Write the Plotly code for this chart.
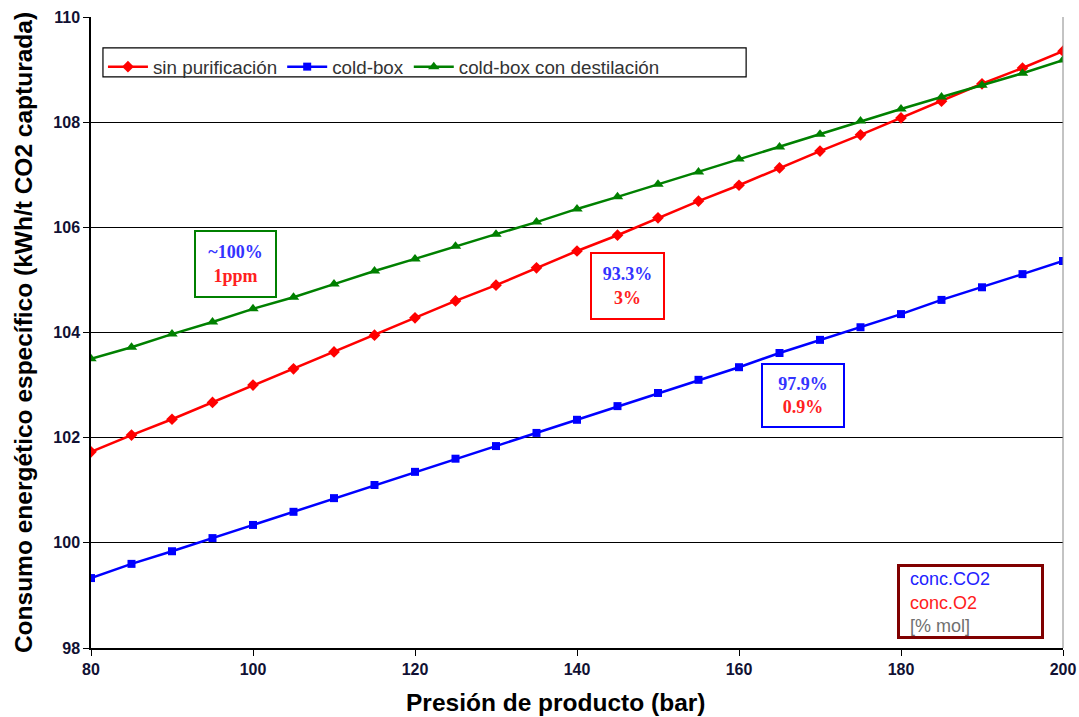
import plotly.graph_objects as go

# Presión de producto (bar)
presion = [80, 85, 90, 95, 100, 105, 110, 115, 120, 125, 130, 135, 140,
           145, 150, 155, 160, 165, 170, 175, 180, 185, 190, 195, 200]

# Consumo energético específico (kWh/t CO2 capturada)
sin_purificacion = [101.73, 102.05, 102.35, 102.67, 103.00, 103.31, 103.63, 103.95,
                    104.28, 104.60, 104.90, 105.23, 105.55, 105.85, 106.18, 106.50,
                    106.80, 107.13, 107.45, 107.76, 108.08, 108.40, 108.73, 109.03,
                    109.35]
cold_box = [99.33, 99.60, 99.84, 100.09, 100.34, 100.59, 100.85, 101.10, 101.35,
            101.60, 101.84, 102.09, 102.34, 102.60, 102.85, 103.10, 103.34, 103.61,
            103.86, 104.10, 104.35, 104.62, 104.86, 105.11, 105.36]
cold_box_destilacion = [103.50, 103.72, 103.97, 104.20, 104.45, 104.67, 104.92, 105.17,
                        105.40, 105.64, 105.87, 106.10, 106.35, 106.58, 106.82, 107.05,
                        107.30, 107.53, 107.77, 108.02, 108.25, 108.48, 108.70, 108.93,
                        109.18]

y_ticks = [98, 100, 102, 104, 106, 108, 110]
x_ticks = [80, 100, 120, 140, 160, 180, 200]

fig = go.Figure()

fig.add_trace(go.Scatter(
    x=presion, y=sin_purificacion, name="sin purificación", mode="lines+markers",
    line=dict(color="#ff0000", width=2.5),
    marker=dict(symbol="diamond", size=9, color="#ff0000")))
fig.add_trace(go.Scatter(
    x=presion, y=cold_box, name="cold-box", mode="lines+markers",
    line=dict(color="#0000ff", width=2.5),
    marker=dict(symbol="square", size=8, color="#0000ff")))
fig.add_trace(go.Scatter(
    x=presion, y=cold_box_destilacion, name="cold-box con destilación", mode="lines+markers",
    line=dict(color="#008000", width=2.5),
    marker=dict(symbol="triangle-up", size=10, color="#008000")))

serif = "Liberation Serif, Times New Roman, serif"
sans = "Liberation Sans, Arial, sans-serif"

# Purity boxes: CO2 concentration (blue) over O2 concentration (red)
boxes = [
    (97.9, 105.30, "~100%", "1ppm", "#008000", 79, 64),
    (146.2, 104.88, "93.3%", "3%", "#ff0000", 71, 64),
    (167.9, 102.81, "97.9%", "0.9%", "#0000ff", 80, 61),
]
annotations = []
for x, y, co2, o2, col, w, h in boxes:
    annotations.append(dict(
        x=x, y=y, xref="x", yref="y", showarrow=False,
        text=f"<b><span style='color:#3333ff'>{co2}</span><br>"
             f"<span style='color:#ff2020'>{o2}</span></b>",
        font=dict(family=serif, size=18), align="center",
        bordercolor=col, borderwidth=2, bgcolor="white",
        width=w, height=h, borderpad=0))

annotations.append(dict(
    x=188.58, y=98.88, xref="x", yref="y", showarrow=False,
    text="&nbsp;&nbsp;<span style='color:#2222ff'>conc.CO2</span><br>"
         "&nbsp;&nbsp;<span style='color:#ff2020'>conc.O2</span><br>"
         "&nbsp;&nbsp;<span style='color:#707070'>[% mol]</span>",
    font=dict(family=sans, size=18), align="left", valign="bottom",
    bordercolor="#800000", borderwidth=3, bgcolor="white",
    width=141, height=69, borderpad=0, xanchor="center", yanchor="middle"))

# x-axis title, set slightly left of the plot centre
annotations.append(dict(
    x=0.478, y=-0.0856, xref="paper", yref="paper", showarrow=False,
    text="<b>Presión de producto (bar)</b>",
    font=dict(family=sans, size=24.5, color="#000000"),
    xanchor="center", yanchor="middle"))

fig.update_layout(
    width=1079, height=717,
    margin=dict(l=91, r=16, t=17, b=69, autoexpand=False),
    paper_bgcolor="white", plot_bgcolor="white",
    font=dict(family=sans, color="#000000"),
    showlegend=True,
    legend=dict(
        orientation="h", x=0.0123, y=0.951, xanchor="left", yanchor="top",
        borderwidth=0, bgcolor="rgba(0,0,0,0)",
        font=dict(family=sans, size=18.8, color="#333333"),
        itemwidth=40, tracegroupgap=0),
    annotations=annotations,
    shapes=[
        # right edge of the plotting area
        dict(type="line", xref="paper", yref="paper", x0=1, x1=1, y0=0, y1=1,
             line=dict(color="#888888", width=1)),
        # frame around the legend
        dict(type="rect", xref="paper", yref="paper", x0=0.0123, x1=0.674,
             y0=0.905, y1=0.951, line=dict(color="#000000", width=1.2),
             fillcolor="white", layer="below"),
    ],
)

fig.update_xaxes(
    range=[80, 200], tickvals=x_ticks, ticktext=[f"<b>{v}</b>" for v in x_ticks],
    showgrid=False, zeroline=False, automargin=False,
    showline=True, linecolor="#000000", linewidth=1.5,
    ticks="outside", ticklen=6, tickcolor="#000000",
    tickfont=dict(family=sans, size=16, color="#111133"))

fig.update_yaxes(
    range=[98, 110], tickvals=y_ticks, ticktext=[f"<b>{v}</b>" for v in y_ticks],
    showgrid=True, gridcolor="#000000", gridwidth=1, zeroline=False, automargin=False,
    showline=True, linecolor="#000000", linewidth=1.5,
    ticks="outside", ticklen=6, tickcolor="#000000",
    tickfont=dict(family=sans, size=16, color="#111133"),
    title=dict(text="<b>Consumo energético específico (kWh/t CO2 capturada)</b>",
               font=dict(family=sans, size=24.5, color="#000000"), standoff=14))

fig.write_html("out.html")
